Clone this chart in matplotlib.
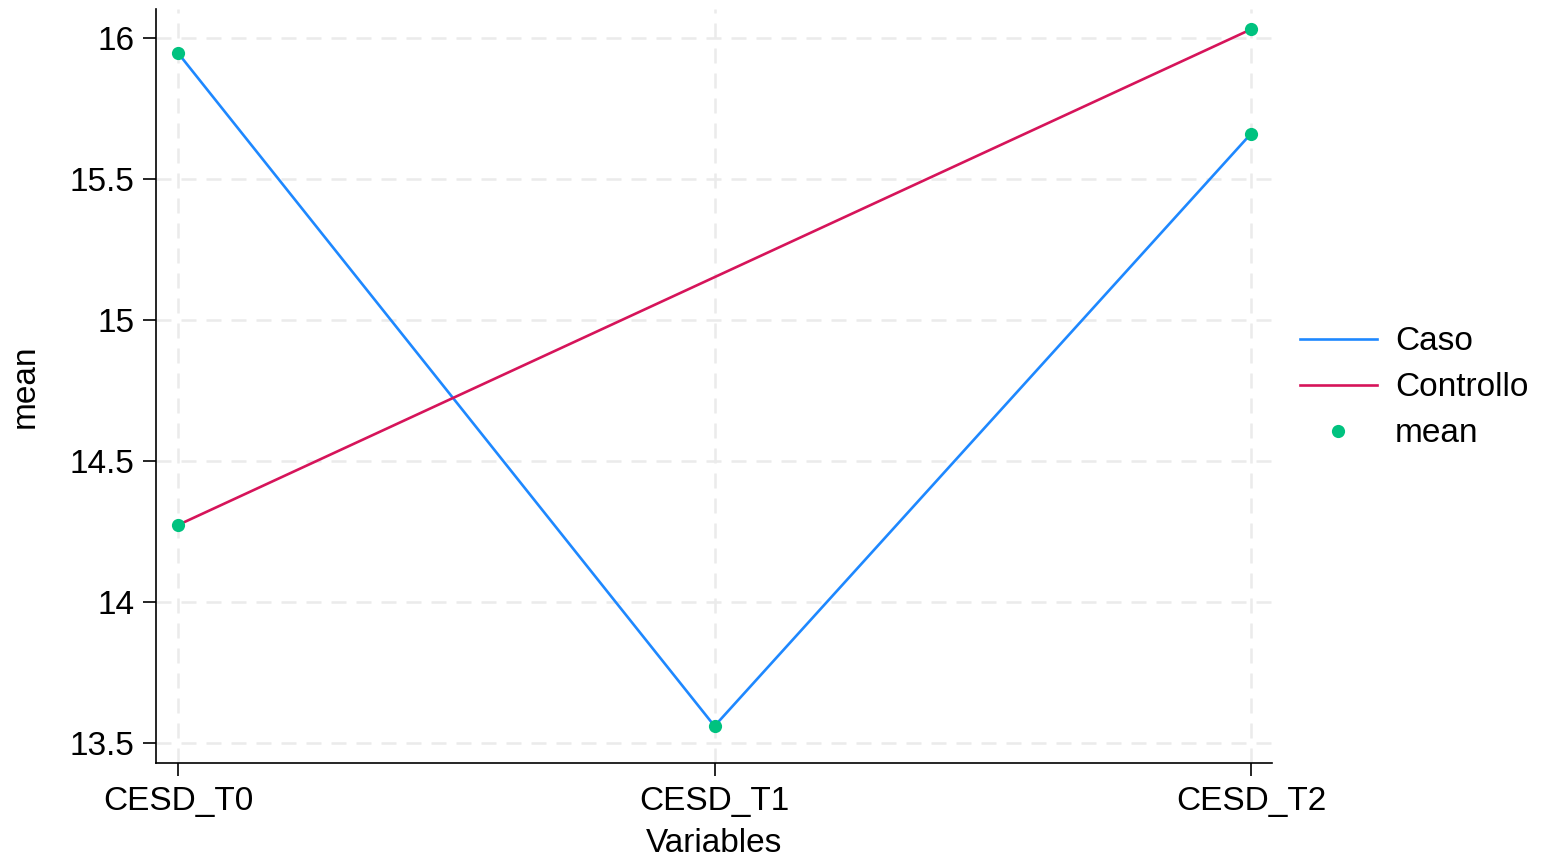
import numpy as np
import matplotlib
matplotlib.use("Agg")
import matplotlib.pyplot as plt
from matplotlib.lines import Line2D

plt.rcParams['font.family'] = ['Liberation Sans', 'DejaVu Sans']

categories = ["CESD_T0", "CESD_T1", "CESD_T2"]
caso = [15.947, 13.560, 15.661]
controllo = [14.273, np.nan, 16.031]

fig = plt.figure(figsize=(15.42, 8.59), dpi=100)
ax = fig.add_axes([156/1542, 1 - 763/859, (1272-156)/1542, (763-9)/859])

x = np.arange(len(categories))
c_blue = "#1E88FF"
c_red = "#D6145A"
c_pt = "#00C27F"

ca = np.array(caso, dtype=float)
co = np.array(controllo, dtype=float)
m1 = ~np.isnan(ca)
m2 = ~np.isnan(co)
ax.plot(x[m1], ca[m1], color=c_blue, lw=1.9, zorder=3)
ax.plot(x[m2], co[m2], color=c_red, lw=1.9, zorder=3)
ax.plot(x[m1], ca[m1], 'o', color=c_pt, ms=9.5, zorder=4, markeredgewidth=0)
ax.plot(x[m2], co[m2], 'o', color=c_pt, ms=9.5, zorder=4, markeredgewidth=0)

ax.set_xlim(-0.041, 2.039)
ax.set_ylim(13.429, 16.103)
ax.set_xticks(x)
ax.set_xticklabels(categories)
ax.set_yticks([13.5, 14, 14.5, 15, 15.5, 16])
ax.set_yticklabels(["13.5", "14", "14.5", "15", "15.5", "16"])
ax.tick_params(labelsize=24, length=9.5, width=1.2, color="black")
ax.tick_params(axis="x", pad=7)
ax.tick_params(axis="y", pad=6)
ax.grid(True, color="#EBEBEB", linestyle=(0, (6, 4)), lw=1.8, zorder=0)
for s in ["top", "right"]:
    ax.spines[s].set_visible(False)
for s in ["left", "bottom"]:
    ax.spines[s].set_linewidth(1.2)

ax.set_xlabel("Variables", fontsize=24, labelpad=8)
ax.set_ylabel("mean", fontsize=24, labelpad=21)

handles = [Line2D([], [], color=c_blue, lw=1.9),
           Line2D([], [], color=c_red, lw=1.9),
           Line2D([], [], color=c_pt, marker='o', ls='none', ms=9.5, markeredgewidth=0)]
fig.legend(handles, ["Caso", "Controllo", "mean"], loc="center left",
           bbox_to_anchor=(1270/1542, 1 - 388/859), frameon=False, fontsize=24,
           handlelength=2.3, handletextpad=0.55, labelspacing=0.45)

fig.savefig("out.png", dpi=100)
